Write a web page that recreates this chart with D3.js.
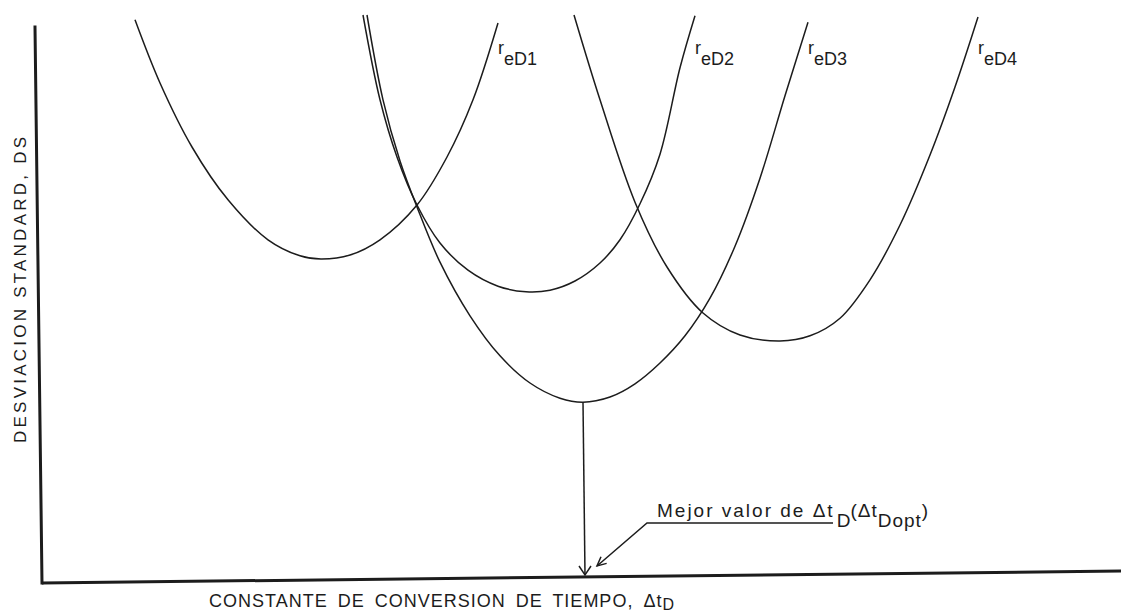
<!DOCTYPE html>
<html>
<head>
<meta charset="utf-8">
<script src="https://cdn.jsdelivr.net/npm/d3@7"></script>
<style>
  html, body { margin: 0; padding: 0; background: #ffffff; }
  svg { display: block; }
  text { font-family: "Liberation Sans", Arial, sans-serif; fill: #1c1c1c; }
</style>
</head>
<body>
<svg id="chart" width="1121" height="616"></svg>
<script>
// Desviación standard (DS) versus constante de conversión de tiempo (Δt_D),
// one curve per r_eD value. Units are arbitrary (schematic figure).

// [Δt_D, DS] points along each curve
const rD1 = [[9.3,140.8],[11.8,125.0],[15.0,109.0],[18.6,95.8],[22.6,85.8],[25.8,81.8],[27.9,81.0],[30.8,82.0],[33.8,85.8],[37.5,94.5],[40.5,106.5],[43.1,120.8],[45.6,140.0]];
const rD2 = [[32.1,142.0],[33.8,120.8],[35.5,106.5],[37.5,94.5],[39.8,85.0],[42.6,78.2],[45.6,74.2],[48.4,72.8],[50.8,73.2],[53.3,75.5],[55.8,80.0],[57.8,85.8],[59.8,94.8],[61.8,107.2],[63.8,128.8],[65.3,141.8]];
const rD3 = [[32.5,142.0],[34.1,120.8],[35.8,105.5],[37.5,94.0],[39.8,80.2],[42.8,66.8],[45.8,56.8],[48.8,50.0],[51.8,46.2],[54.1,45.2],[56.8,46.5],[59.3,49.8],[61.8,55.0],[64.3,61.8],[66.8,71.2],[69.3,84.2],[71.8,101.2],[74.3,121.8],[76.6,140.2]];
const rD4 = [[53.2,142.0],[55.8,120.8],[59.3,95.2],[62.5,79.0],[66.1,67.5],[69.8,62.0],[73.8,60.5],[76.8,61.8],[79.8,66.2],[82.8,75.8],[85.8,89.5],[88.8,107.0],[91.3,124.0],[93.6,141.5]];

const curveSeries = [rD1, rD2, rD3, rD4];
const curveLabels = ["eD1", "eD2", "eD3", "eD4"];

const yTitle = "DESVIACION STANDARD, DS";
const xTitle = "CONSTANTE DE CONVERSION DE TIEMPO, Δt";
const xTitleSub = "D";
const noteText = "Mejor valor de Δt";
const noteSub = "D";
const noteParen = "(Δt";
const noteParenSub = "Dopt";

const svg = d3.select("#chart");
const ink = "#1c1c1c";

const x = d3.scaleLinear().domain([0, 107]).range([42, 1112]);
const y = d3.scaleLinear().domain([0, 142]).range([583, 15]);

// horizontal axis runs very slightly uphill to the right
const axisYAt = px => y(0) + (px - x(0)) * (-12 / 1079);

// axes
svg.append("line")
  .attr("x1", x(-0.7)).attr("y1", y(139))
  .attr("x2", x(0)).attr("y2", y(0))
  .attr("stroke", ink).attr("stroke-width", 3).attr("stroke-linecap", "square");
svg.append("line")
  .attr("x1", x(0)).attr("y1", y(0))
  .attr("x2", 1121).attr("y2", axisYAt(1121))
  .attr("stroke", ink).attr("stroke-width", 3);

// curves
const line = d3.line()
  .x(d => x(d[0])).y(d => y(d[1]))
  .curve(d3.curveCatmullRom.alpha(0.5));

svg.append("g").selectAll("path")
  .data(curveSeries)
  .join("path")
  .attr("d", line)
  .attr("fill", "none")
  .attr("stroke", ink)
  .attr("stroke-width", 1.5);

// r_eD labels next to the upper end of each right branch
const lbl = svg.append("g").selectAll("text")
  .data(curveSeries)
  .join("text")
  .attr("x", d => x(d[d.length - 1][0]))
  .attr("y", 54)
  .attr("font-size", 18);
lbl.append("tspan").text("r");
lbl.append("tspan").attr("dy", 11).text((d, i) => curveLabels[i]);

// drop line from the lowest minimum to the Δt_D axis
const best = rD3.reduce((a, b) => (b[1] < a[1] ? b : a));
const bx = x(best[0]);
const tip = [bx + 2, axisYAt(bx + 2) - 2];
svg.append("line")
  .attr("x1", bx).attr("y1", y(best[1]))
  .attr("x2", tip[0]).attr("y2", tip[1])
  .attr("stroke", ink).attr("stroke-width", 1.5);
svg.append("path")
  .attr("d", `M${tip[0] - 6},${tip[1] - 9}L${tip[0]},${tip[1]}L${tip[0] + 6},${tip[1] - 9}`)
  .attr("fill", "none").attr("stroke", ink).attr("stroke-width", 1.5);

// leader to the annotation
const knee = [tip[0] + 62, tip[1] - 52];
const end = [tip[0] + 12, tip[1] - 9];
svg.append("path")
  .attr("d", `M${knee[0] + 186},${knee[1]}L${knee[0]},${knee[1]}L${end[0]},${end[1]}`)
  .attr("fill", "none").attr("stroke", ink).attr("stroke-width", 1.5);
{
  const ang = Math.atan2(end[1] - knee[1], end[0] - knee[0]);
  const L = 10, s = 0.45;
  const a1 = [end[0] - L * Math.cos(ang - s), end[1] - L * Math.sin(ang - s)];
  const a2 = [end[0] - L * Math.cos(ang + s), end[1] - L * Math.sin(ang + s)];
  svg.append("path")
    .attr("d", `M${a1[0]},${a1[1]}L${end[0]},${end[1]}L${a2[0]},${a2[1]}`)
    .attr("fill", "none").attr("stroke", ink).attr("stroke-width", 1.5);
}
const note = svg.append("text")
  .attr("x", knee[0] + 10).attr("y", knee[1] - 6)
  .attr("font-size", 19);
note.append("tspan").attr("letter-spacing", 2).text(noteText);
note.append("tspan").attr("dx", 2).attr("dy", 10).text(noteSub);
note.append("tspan").attr("dy", -10).attr("letter-spacing", 1).text(noteParen);
note.append("tspan").attr("dy", 10).attr("letter-spacing", 1).text(noteParenSub);
note.append("tspan").attr("dy", -10).text(")");

// axis titles
svg.append("text")
  .attr("transform", `translate(26,443) rotate(-90)`)
  .attr("font-size", 17)
  .attr("textLength", 306).attr("lengthAdjust", "spacing")
  .text(yTitle);

const xt = svg.append("text")
  .attr("x", 209).attr("y", 607)
  .attr("font-size", 18).attr("letter-spacing", 1).attr("word-spacing", 4);
xt.append("tspan").text(xTitle);
xt.append("tspan").attr("dy", 3).attr("font-size", 16).text(xTitleSub);
</script>
</body>
</html>
